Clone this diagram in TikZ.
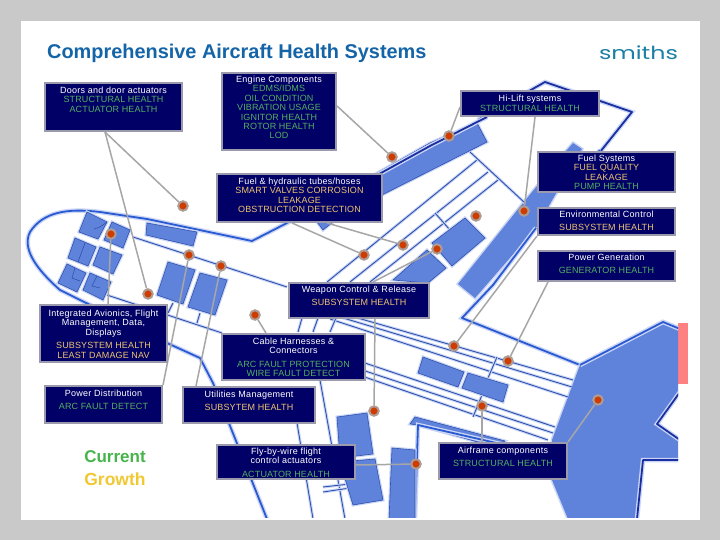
\documentclass[tikz,border=0pt]{standalone}
\usepackage{fontspec}
\usepackage{graphicx}
\setmainfont{Liberation Sans}
\newfontfamily\smfont{Poppins}
\newfontfamily\wtfont[LetterSpace=3]{Liberation Sans}
\newfontfamily\hlfont[LetterSpace=1.5]{Liberation Sans}
\definecolor{slidegray}{HTML}{C9C9C9}
\definecolor{titleblue}{HTML}{1464A8}
\definecolor{logoteal}{HTML}{1C7FA6}
\definecolor{panelfill}{HTML}{000066}
\definecolor{panelline}{HTML}{9A9AAC}
\definecolor{okgreen}{HTML}{55B060}
\definecolor{amber}{HTML}{EFC470}
\definecolor{planefill}{HTML}{5F82DA}
\definecolor{planeline}{HTML}{2A5AD2}
\definecolor{thinline}{HTML}{2F52AE}
\definecolor{navyline}{HTML}{1A2FA0}
\definecolor{glowblue}{HTML}{CBD6F6}
\definecolor{wiregray}{HTML}{A6A6A6}
\definecolor{dotred}{HTML}{CF3C00}
\definecolor{dotring}{HTML}{AE9C94}
\definecolor{pinkbar}{HTML}{FF8080}
\definecolor{curgreen}{HTML}{46B44A}
\definecolor{growyellow}{HTML}{F0C832}
\pgfdeclarelayer{planelayer}
\pgfdeclarelayer{wirelayer}
\pgfsetlayers{planelayer,wirelayer,main}
\tikzset{
  panelbox/.style={draw=panelline,fill=panelfill,line width=2pt,inner sep=0pt,anchor=north west,text=white},
  hotspot/.style={circle,draw=dotring,fill=dotred,line width=2pt,minimum size=9.5pt,inner sep=0pt},
  wire/.style={draw=wiregray,line width=1.5pt},
  plate/.style={fill=planefill,draw=thinline,line width=0.6pt,preaction={draw=glowblue,line width=3pt},line join=round},
  hull/.style={draw=planeline,line width=1.8pt,preaction={draw=glowblue,line width=4.5pt},line join=round},
  navy/.style={draw=navyline,line width=1.8pt,preaction={draw=glowblue,line width=4.5pt},line join=round},
  rib/.style={draw=thinline,line width=0.9pt,preaction={draw=glowblue,line width=3pt}},
  inner/.style={draw=thinline,line width=0.6pt},
}
\newcommand\wtl[1]{{\wtfont\color{white}#1}}
\newcommand\grl[1]{{\hlfont\color{okgreen}#1}}
\newcommand\aml[1]{{\hlfont\color{amber}#1}}
\newcommand\panel[7]{\node[panelbox,minimum width=#4pt,minimum height=#5pt] (#1) at (#2,#3)
  {\parbox[c][#5pt][t]{#4pt}{\centering\fontsize{9}{9.4}\selectfont\vspace*{#6pt}#7\par}};}
\begin{document}
\begin{tikzpicture}[x=1pt,y=-1pt]
\useasboundingbox (0,0) rectangle (720,540);
\begin{pgfonlayer}{planelayer}
\fill[slidegray] (0,0) rectangle (720,540);
\fill[white] (21,21) rectangle (700,520);
\fill[pinkbar] (678,323) rectangle (688,384);
\begin{scope}
\clip (21,21) rectangle (678,517);
% wing tips and wing bands
\draw[navy] (478,120) -- (545,82) -- (632,112) -- (600,152);
\fill[planefill,preaction={draw=glowblue,line width=3pt}] (573,143) -- (582,149) -- (536,228) -- (475,298) -- (458,284) -- (523,203) -- (550,170) -- (566,151) -- cycle;
\draw[hull] (600,150) -- (582,172);
\draw[hull] (536,228) -- (493,285) -- (462,318) -- (580,365) -- (663,322) -- (678,328);
% tail
\fill[planefill,preaction={draw=glowblue,line width=3pt}] (580,365) -- (663,322) -- (680,329) -- (680,392) -- (657,424) -- (680,440) -- (680,460) -- (643,460) -- (637,519) -- (568,519) -- (552,480) -- (552,440) -- cycle;
\draw[hull] (580,365) -- (663,322) -- (680,329);
\draw[navy] (680,392) -- (657,424) -- (680,440);
\draw[navy] (680,460) -- (643,460) -- (637,519);
% upper flap
\fill[plate] (372,176) -- (430,143) -- (477,123) -- (487,142) -- (378,197) -- cycle;
\draw[navy] (372,178) -- (430,146) -- (487,117);
% fuselage
\draw[hull] (287,223) -- (252,241) -- (147,219) -- (100,212) .. controls (67,208) and (43,212) .. (30,232) .. controls (22,248) and (35,268) .. (60,290) -- (167,343) -- (200,358) -- (213,383) -- (267,519);
\draw[hull] (287,223) -- (372,178);
\fill[plate] (317,222) -- (323,230) -- (333,222) -- cycle;
% lower wing root
\fill[plate] (415,417) -- (505,441) -- (495,447) -- (418,425) -- (410,424) -- cycle;
\draw[hull] (505,445) -- (418,425) -- (415,519);
\fill[plate] (392,448) -- (415,450) -- (415,519) -- (389,519) -- cycle;
% centre diagonals and rungs
\draw[rib] (327,282) -- (477,160);
\draw[rib] (350,282) -- (488,172);
\draw[rib] (370,282) -- (498,180);
\draw[rib] (470,152) -- (525,203);
\draw[rib] (435,213) -- (450,230);
\fill[plate] (465,218) -- (485,238) -- (452,266) -- (432,243) -- cycle;
\fill[plate] (427,250) -- (446,268) -- (428,283) -- (393,280) -- cycle;
% left fuselage lines
\draw[rib] (133,237) -- (287,287);
\draw[rib] (107,295) -- (222,333);
\draw[rib] (173,303) -- (168,313);
\draw[rib] (200,313) -- (197,323);
% lines to tail
\draw[rib] (330,310) -- (573,380);
\draw[rib] (330,314) -- (572,387);
\draw[rib] (330,319) -- (568,397);
\draw[rib] (350,358) -- (555,427);
\draw[rib] (350,366) -- (553,433);
\draw[rib] (350,372) -- (548,440);
\draw[rib] (497,357) -- (488,378);
\draw[rib] (482,395) -- (473,417);
\draw[rib] (302,318) -- (298,332);
\draw[rib] (318,318) -- (313,332);
\draw[rib] (336,318) -- (330,332);
\draw[rib] (297,423) -- (313,519);
\draw[rib] (320,380) -- (345,519);
\draw[rib] (323,487) -- (350,484);
\draw[rib] (323,492) -- (350,488);
\fill[plate] (423,357) -- (464,372) -- (458,387) -- (418,373) -- cycle;
\fill[plate] (468,373) -- (508,385) -- (503,402) -- (462,388) -- cycle;
% cabin plates
\fill[plate] (147,223) -- (197,232) -- (193,246) -- (146,235) -- cycle;
\fill[plate] (87,212) -- (107,222) -- (98,239) -- (79,232) -- cycle;
\draw[inner] (94,229) -- (100,227) -- (107,222);
\fill[plate] (112,222) -- (130,230) -- (123,248) -- (104,240) -- cycle;
\fill[plate] (75,238) -- (96,247) -- (88,266) -- (68,258) -- cycle;
\draw[inner] (85,243) -- (78,262);
\fill[plate] (100,247) -- (122,255) -- (113,274) -- (93,265) -- cycle;
\fill[plate] (67,264) -- (86,273) -- (77,292) -- (58,283) -- cycle;
\draw[inner] (75,268) -- (72,278) -- (80,281);
\fill[plate] (90,273) -- (111,282) -- (103,300) -- (83,290) -- cycle;
\draw[inner] (97,276) -- (92,286) -- (100,288);
\fill[plate] (168,262) -- (195,270) -- (183,304) -- (157,295) -- cycle;
\fill[plate] (200,273) -- (227,280) -- (215,315) -- (188,307) -- cycle;
% lower plates
\fill[plate] (337,417) -- (367,413) -- (373,454) -- (340,458) -- cycle;
\fill[plate] (340,462) -- (375,459) -- (383,500) -- (353,505) -- cycle;
\end{scope}
\end{pgfonlayer}

\node[anchor=west,text=titleblue,font=\fontsize{19.9}{20}\selectfont\bfseries,inner sep=0pt] (title) at (47,53) {Comprehensive Aircraft Health Systems};
\node[anchor=center,text=logoteal,inner sep=0pt] (logo) at (638.5,53) {\scalebox{1.32}[1]{\smfont\fontsize{18}{18}\selectfont smiths}};
\node[anchor=center,text=curgreen,font=\fontsize{17}{17}\selectfont\bfseries,inner sep=0pt] (cur) at (115,457) {Current};
\node[anchor=center,text=growyellow,font=\fontsize{17.5}{17.5}\selectfont\bfseries,inner sep=0pt] (gro) at (115,479) {Growth};

\panel{doors}{44}{82}{137}{48}{4}{\wtl{Doors and door actuators}\\ \grl{STRUCTURAL HEALTH}\\ \grl{ACTUATOR HEALTH}}
\panel{engine}{221}{72}{114}{77}{3}{\wtl{Engine Components}\\ \grl{EDMS/IDMS}\\ \grl{OIL CONDITION}\\ \grl{VIBRATION USAGE}\\ \grl{IGNITOR HEALTH}\\ \grl{ROTOR HEALTH}\\ \grl{LOD}}
\panel{fuelhyd}{216}{173}{165}{48}{4}{\wtl{Fuel \& hydraulic tubes/hoses}\\ \aml{SMART VALVES CORROSION}\\ \aml{LEAKAGE}\\ \aml{OBSTRUCTION DETECTION}}
\panel{hilift}{460}{90}{138}{25}{4}{\wtl{Hi-Lift systems}\\[1pt] \grl{STRUCTURAL HEALTH}}
\panel{fuelsys}{537}{151}{137}{40}{3}{\wtl{Fuel Systems}\\ \aml{FUEL QUALITY}\\ \aml{LEAKAGE}\\ \grl{PUMP HEALTH}}
\panel{env}{537}{207}{137}{27}{3}{\wtl{Environmental Control}\\[4pt] \aml{SUBSYSTEM HEALTH}}
\panel{powgen}{537}{250}{137}{30}{3}{\wtl{Power Generation}\\[4pt] \grl{GENERATOR HEALTH}}
\panel{weapon}{288}{282}{140}{35}{3}{\wtl{Weapon Control \& Release}\\[4pt] \aml{SUBSYSTEM HEALTH}}
\panel{avionics}{39}{304}{127}{57}{5}{\wtl{Integrated Avionics, Flight}\\ \wtl{Management, Data,}\\ \wtl{Displays}\\[4pt] \aml{SUBSYSTEM HEALTH}\\ \aml{LEAST DAMAGE NAV}}
\panel{powdist}{44}{385}{117}{37}{4}{\wtl{Power Distribution}\\[4pt] \grl{ARC FAULT DETECT}}
\panel{cable}{221}{333}{143}{46}{4}{\wtl{Cable Harnesses \&}\\ \wtl{Connectors}\\[4pt] \grl{ARC FAULT PROTECTION}\\ \grl{WIRE FAULT DETECT}}
\panel{util}{182}{386}{132}{36}{4}{\wtl{Utilities Management}\\[4pt] \aml{SUBSYTEM HEALTH}}
\panel{fbw}{216}{444}{138}{34}{3}{\wtl{Fly-by-wire flight}\\ \wtl{control actuators}\\[4pt] \grl{ACTUATOR HEALTH}}
\panel{airframe}{438}{442}{128}{36}{4}{\wtl{Airframe components}\\[4pt] \grl{STRUCTURAL HEALTH}}

\node[hotspot] (d1) at (183,206) {};
\node[hotspot] (d2) at (111,234) {};
\node[hotspot] (d3) at (189,255) {};
\node[hotspot] (d4) at (221,266) {};
\node[hotspot] (d5) at (148,294) {};
\node[hotspot] (d6) at (255,315) {};
\node[hotspot] (d7) at (392,157) {};
\node[hotspot] (d8) at (449,136) {};
\node[hotspot] (d9) at (524,211) {};
\node[hotspot] (d10) at (476,216) {};
\node[hotspot] (d11) at (403,245) {};
\node[hotspot] (d12) at (437,249) {};
\node[hotspot] (d13) at (364,255) {};
\node[hotspot] (d14) at (454,346) {};
\node[hotspot] (d15) at (508,361) {};
\node[hotspot] (d16) at (482,406) {};
\node[hotspot] (d17) at (598,400) {};
\node[hotspot] (d18) at (374,411) {};
\node[hotspot] (d19) at (416,464) {};

\begin{pgfonlayer}{wirelayer}
\draw[wire] ([xshift=61pt]doors.south west) -- (d1);
\draw[wire] ([xshift=61pt]doors.south west) -- (d5);
\draw[wire] ([yshift=45pt]engine.south east) -- (d7);
\draw[wire] ([yshift=10pt]hilift.south west) -- (d8);
\draw[wire] ([xshift=75pt]hilift.south west) -- (d9);
\draw[wire] ([xshift=76pt]fuelhyd.south west) -- (d13);
\draw[wire] ([xshift=111pt]fuelhyd.south west) -- (d11);
\draw[wire] ([xshift=85pt]weapon.north west) -- (d12);
\draw[wire] ([xshift=87pt]weapon.south west) -- (d18);
\draw[wire] (env.south west) -- (d14);
\draw[wire] ([xshift=11pt]powgen.south west) -- (d15);
\draw[wire] ([xshift=69pt]avionics.north west) -- (d2);
\draw[wire] (powdist.north east) -- (d3);
\draw[wire] ([xshift=14pt]util.north west) -- (d4);
\draw[wire] ([xshift=45pt]cable.north west) -- (d6);
\draw[wire] ([yshift=-3pt]fbw.east) -- (d19);
\draw[wire] ([xshift=44pt]airframe.north west) -- (d16);
\draw[wire] (airframe.north east) -- (d17);
\end{pgfonlayer}
\end{tikzpicture}
\end{document}
